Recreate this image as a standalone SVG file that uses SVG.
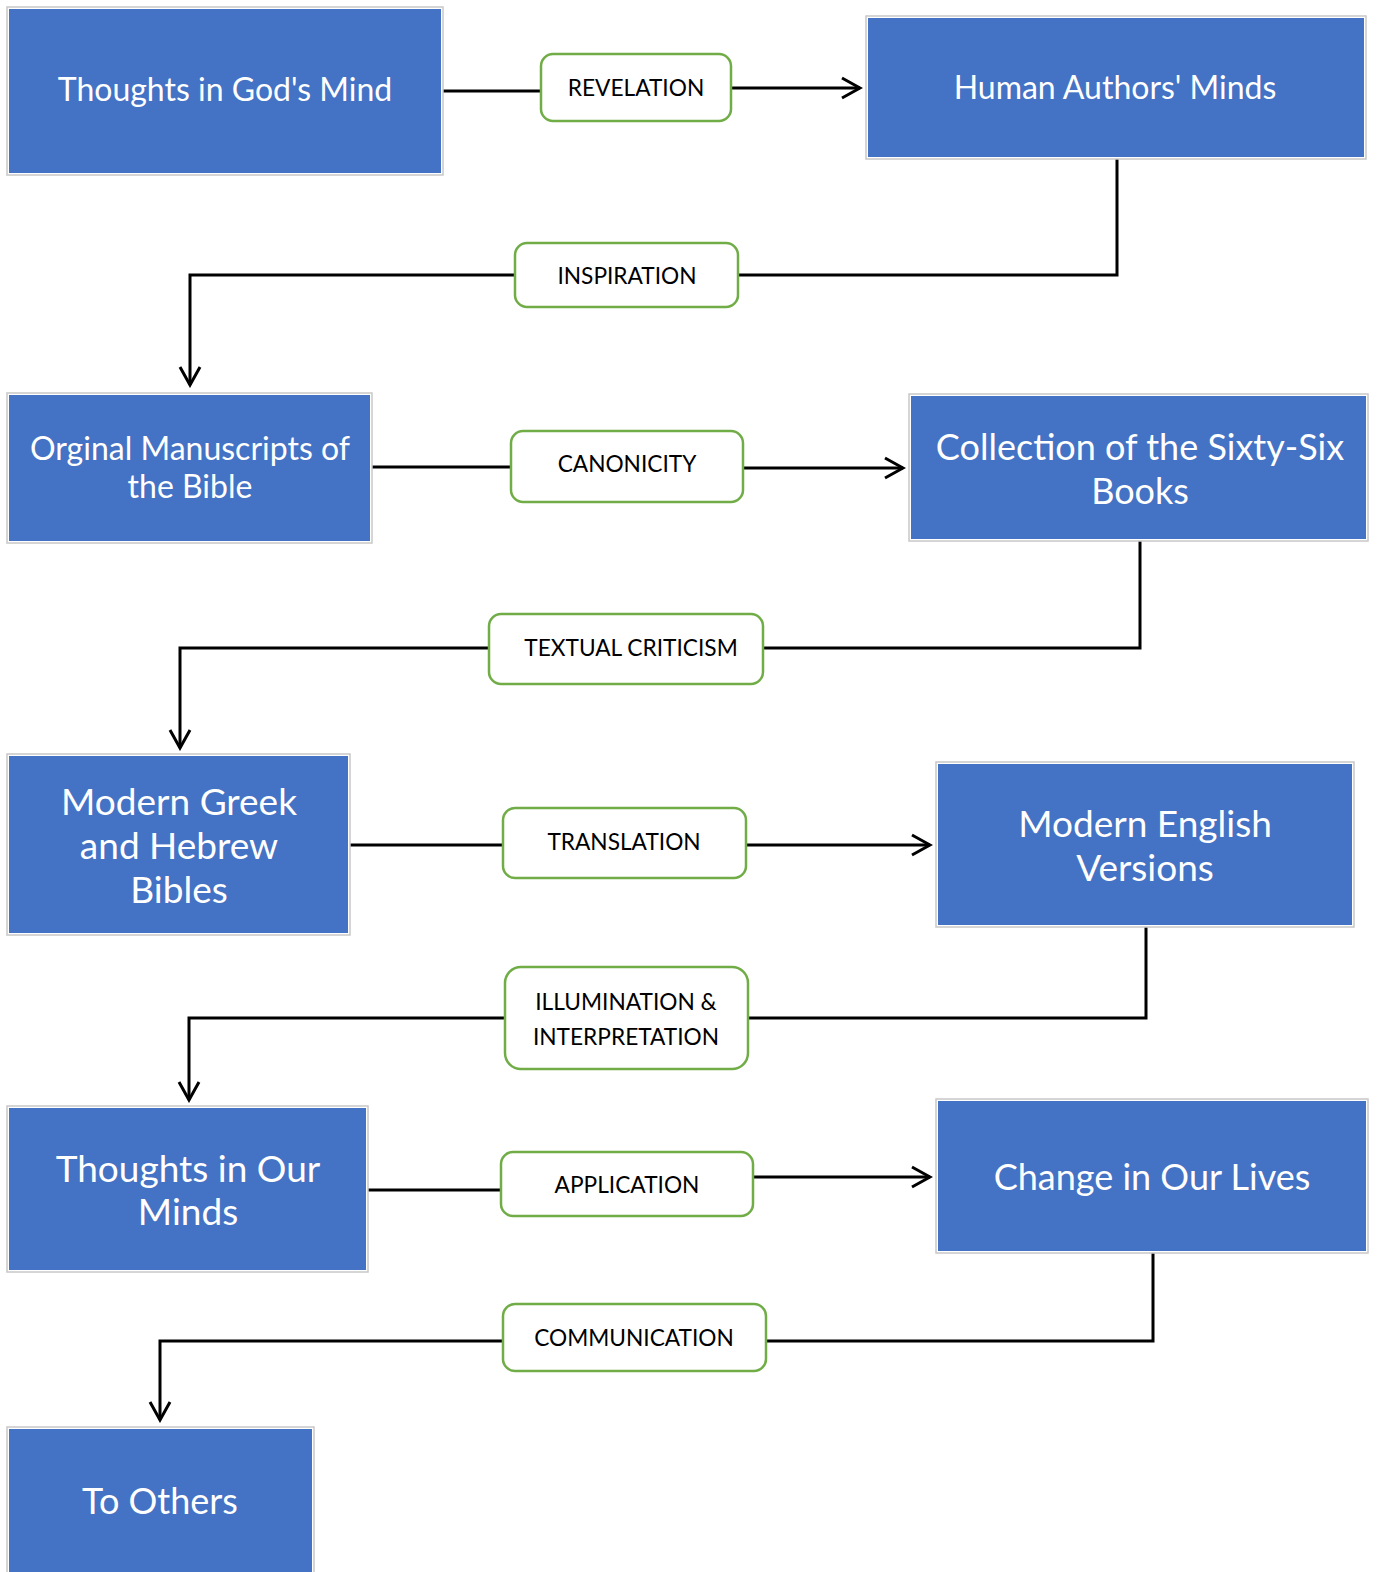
<svg xmlns="http://www.w3.org/2000/svg" width="1377" height="1572" viewBox="0 0 1377 1572">
<defs>
<style>
.outer{fill:#fff;stroke:#c8c8c8;stroke-width:1.5}
.node{fill:#4472C4}
.nt{font-family:Lato,"Open Sans",sans-serif;fill:#fff;text-anchor:middle;dominant-baseline:central}
.lab{fill:#fff;stroke:#70AD47;stroke-width:2.5}
.lt{font-family:Lato,"Open Sans",sans-serif;fill:#000;font-size:22.7px;text-anchor:middle;dominant-baseline:central}
.c{fill:none;stroke:#000;stroke-width:3}
</style>
<marker id="arr" viewBox="0 0 24 24" markerWidth="24" markerHeight="24" refX="21" refY="12" orient="auto" markerUnits="userSpaceOnUse">
<path d="M3,2 L21,12 L3,22" fill="none" stroke="#000" stroke-width="3"/>
</marker>
</defs>
<rect width="1377" height="1572" fill="#fff"/>
<g id="connectors">
<path class="c" d="M443,91 H541"/>
<path class="c" d="M731,88 H860" marker-end="url(#arr)"/>
<path class="c" d="M1117,159 V275 H738"/>
<path class="c" d="M515,275 H190 V385" marker-end="url(#arr)"/>
<path class="c" d="M372,467 H511"/>
<path class="c" d="M743,468 H903" marker-end="url(#arr)"/>
<path class="c" d="M1140,541 V648 H763"/>
<path class="c" d="M489,648 H180 V748" marker-end="url(#arr)"/>
<path class="c" d="M350,845 H503"/>
<path class="c" d="M746,845 H930" marker-end="url(#arr)"/>
<path class="c" d="M1146,927 V1018 H748"/>
<path class="c" d="M505,1018 H189 V1100" marker-end="url(#arr)"/>
<path class="c" d="M368,1190 H501"/>
<path class="c" d="M753,1177 H930" marker-end="url(#arr)"/>
<path class="c" d="M1153,1253 V1341 H766"/>
<path class="c" d="M503,1341 H160 V1420" marker-end="url(#arr)"/>
</g>
<g id="labels">
<g id="l-revelation"><rect class="lab" x="541" y="54" width="190" height="67" rx="12"/><text class="lt" x="636" y="87">REVELATION</text></g>
<g id="l-inspiration"><rect class="lab" x="515" y="243" width="223" height="64" rx="12"/><text class="lt" x="627" y="275">INSPIRATION</text></g>
<g id="l-canonicity"><rect class="lab" x="511" y="431" width="232" height="71" rx="12"/><text class="lt" x="627" y="463">CANONICITY</text></g>
<g id="l-textual"><rect class="lab" x="489" y="614" width="274" height="70" rx="12"/><text class="lt" x="631" y="647">TEXTUAL CRITICISM</text></g>
<g id="l-translation"><rect class="lab" x="503" y="808" width="243" height="70" rx="12"/><text class="lt" x="624" y="841">TRANSLATION</text></g>
<g id="l-illumination"><rect class="lab" x="505" y="967" width="243" height="102" rx="16"/><text class="lt" x="626" y="1001">ILLUMINATION &amp;</text><text class="lt" x="626" y="1036">INTERPRETATION</text></g>
<g id="l-application"><rect class="lab" x="501" y="1152" width="252" height="64" rx="12"/><text class="lt" x="627" y="1184">APPLICATION</text></g>
<g id="l-communication"><rect class="lab" x="503" y="1304" width="263" height="67" rx="12"/><text class="lt" x="634" y="1337">COMMUNICATION</text></g>
</g>
<g id="n1"><rect class="outer" x="7" y="7" width="436" height="168"/><rect class="node" x="9" y="9" width="432" height="164"/><text class="nt" x="225" y="88" font-size="32">Thoughts in God's Mind</text></g>
<g id="n2"><rect class="outer" x="866" y="16" width="500" height="143"/><rect class="node" x="868" y="18" width="496" height="139"/><text class="nt" x="1115" y="86" font-size="32">Human Authors' Minds</text></g>
<g id="n3"><rect class="outer" x="7" y="393" width="365" height="150"/><rect class="node" x="9" y="395" width="361" height="146"/><text class="nt" x="190" y="447" font-size="32">Orginal Manuscripts of</text><text class="nt" x="190" y="485" font-size="32">the Bible</text></g>
<g id="n4"><rect class="outer" x="909" y="394" width="459" height="147"/><rect class="node" x="911" y="396" width="455" height="143"/><text class="nt" x="1140" y="446" font-size="36">Collection of the Sixty-Six</text><text class="nt" x="1140" y="490" font-size="36">Books</text></g>
<g id="n5"><rect class="outer" x="7" y="754" width="343" height="181"/><rect class="node" x="9" y="756" width="339" height="177"/><text class="nt" x="179" y="800" font-size="37">Modern Greek</text><text class="nt" x="179" y="844" font-size="37">and Hebrew</text><text class="nt" x="179" y="888" font-size="37">Bibles</text></g>
<g id="n6"><rect class="outer" x="936" y="762" width="418" height="165"/><rect class="node" x="938" y="764" width="414" height="161"/><text class="nt" x="1145" y="822" font-size="37">Modern English</text><text class="nt" x="1145" y="866" font-size="37">Versions</text></g>
<g id="n7"><rect class="outer" x="7" y="1106" width="361" height="166"/><rect class="node" x="9" y="1108" width="357" height="162"/><text class="nt" x="188" y="1167" font-size="37">Thoughts in Our</text><text class="nt" x="188" y="1210" font-size="37">Minds</text></g>
<g id="n8"><rect class="outer" x="936" y="1099" width="432" height="154"/><rect class="node" x="938" y="1101" width="428" height="150"/><text class="nt" x="1152" y="1176" font-size="36">Change in Our Lives</text></g>
<g id="n9"><rect class="outer" x="7" y="1427" width="307" height="150"/><rect class="node" x="9" y="1429" width="303" height="150"/><text class="nt" x="160" y="1500" font-size="36">To Others</text></g>
</svg>
